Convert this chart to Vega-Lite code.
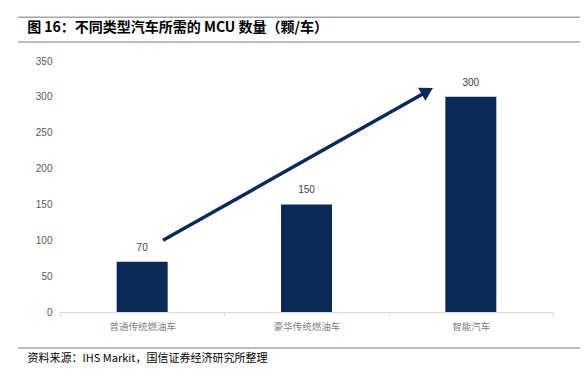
{
  "$schema": "https://vega.github.io/schema/vega-lite/v6.json",
  "autosize": "none",
  "width": 493,
  "height": 251,
  "padding": {"left": 60, "top": 61, "right": 35, "bottom": 63},
  "background": "white",
  "config": {"view": {"stroke": null}, "font": "Noto Sans CJK SC"},
  "datasets": {
    "bars": [
      {"cat": "普通传统燃油车", "val": 70},
      {"cat": "豪华传统燃油车", "val": 150},
      {"cat": "智能汽车", "val": 300}
    ],
    "arrow": [
      {"x": 0.627, "y": 100, "x2": 2.215, "y2": 305}
    ],
    "head": [
      {"x": 2.235, "y": 308}
    ],
    "lines": [
      {"x": -0.256, "x2": 3.164, "y": 411},
      {"x": -0.256, "x2": 3.164, "y": 376.4},
      {"x": -0.256, "x2": 3.164, "y": -50.2}
    ],
    "heading": [
      {"x": -0.2, "y": 395.5, "label": "图 16：不同类型汽车所需的 MCU 数量（颗/车）"}
    ]
  },
  "layer": [
    {
      "data": {"name": "bars"},
      "encoding": {
        "x": {
          "field": "cat",
          "type": "nominal",
          "sort": null,
          "scale": {"paddingInner": 0, "paddingOuter": 0},
          "axis": {
            "title": "资料来源：IHS Markit，国信证券经济研究所整理",
            "titleX": -33,
            "titleY": 46,
            "titleAlign": "left",
            "titleAnchor": "start",
            "titleBaseline": "middle",
            "titleFont": "Noto Sans CJK SC",
            "titleFontSize": 11,
            "titleFontWeight": "normal",
            "titleColor": "#000000",
            "labelAngle": 0,
            "labelFontSize": 9.5,
            "labelColor": "#7f7f7f",
            "labelPadding": 5,
            "domainColor": "#d9d9d9",
            "domainWidth": 1,
            "tickBand": "extent",
            "tickColor": "#d9d9d9",
            "tickSize": 4,
            "grid": false
          }
        },
        "y": {
          "field": "val",
          "type": "quantitative",
          "scale": {"domain": [0, 350], "nice": false},
          "axis": {
            "title": null,
            "values": [0, 50, 100, 150, 200, 250, 300, 350],
            "labelOverlap": false,
            "domain": false,
            "ticks": false,
            "grid": false,
            "labelFontSize": 10,
            "labelColor": "#595959",
            "labelPadding": 8,
            "labelFont": "Liberation Sans"
          }
        }
      },
      "layer": [
        {"mark": {"type": "bar", "size": 51, "color": "#0c2a57"}},
        {
          "mark": {"type": "text", "baseline": "bottom", "dy": -9, "fontSize": 10, "color": "#404040", "font": "Liberation Sans"},
          "encoding": {"text": {"field": "val", "type": "quantitative"}}
        }
      ]
    },
    {
      "layer": [
        {
          "data": {"name": "lines"},
          "mark": {"type": "rule", "color": "#a6a6a6", "strokeWidth": 1.5, "clip": false},
          "encoding": {
            "x": {"field": "x", "type": "quantitative", "scale": {"domain": [0, 3], "nice": false, "zero": false}, "axis": null},
            "x2": {"field": "x2"},
            "y": {"field": "y", "type": "quantitative", "axis": null}
          }
        },
        {
          "data": {"name": "heading"},
          "mark": {"type": "text", "align": "left", "baseline": "middle", "fontSize": 14, "fontWeight": "bold", "color": "#000000", "font": "Noto Sans CJK SC", "clip": false},
          "encoding": {
            "x": {"field": "x", "type": "quantitative", "axis": null},
            "y": {"field": "y", "type": "quantitative", "axis": null},
            "text": {"field": "label", "type": "nominal"}
          }
        },
        {
          "data": {"name": "arrow"},
          "mark": {"type": "rule", "color": "#0c2a57", "strokeWidth": 3.5, "clip": false},
          "encoding": {
            "x": {"field": "x", "type": "quantitative", "axis": null},
            "x2": {"field": "x2"},
            "y": {"field": "y", "type": "quantitative", "axis": null},
            "y2": {"field": "y2"}
          }
        },
        {
          "data": {"name": "head"},
          "mark": {"type": "point", "shape": "triangle-right", "filled": true, "opacity": 1, "color": "#0c2a57", "size": 220, "angle": 330.5, "clip": false},
          "encoding": {
            "x": {"field": "x", "type": "quantitative", "axis": null},
            "y": {"field": "y", "type": "quantitative", "axis": null}
          }
        }
      ]
    }
  ],
  "resolve": {"scale": {"x": "independent"}, "axis": {"x": "independent", "y": "independent"}}
}
